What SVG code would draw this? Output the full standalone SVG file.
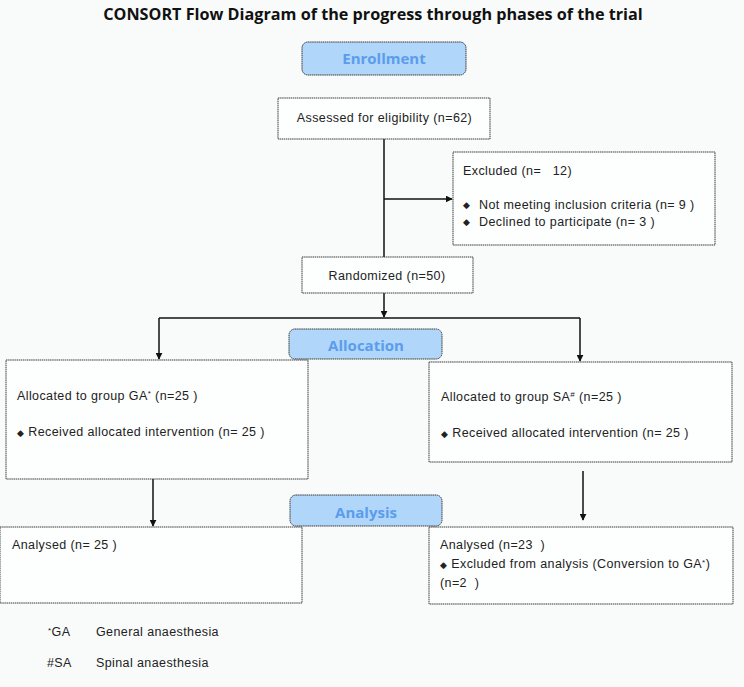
<svg xmlns="http://www.w3.org/2000/svg" width="744" height="687" viewBox="0 0 744 687">
<defs>
<style>
.box{fill:#fdfefe;stroke:#3a3a3a;stroke-width:1;stroke-dasharray:1.5 0.6}
.phase{fill:#b0d6fa;stroke:#3a3a3a;stroke-width:1;stroke-dasharray:1.5 0.6}
.pt{font-family:"Open Sans","Liberation Sans",sans-serif;font-weight:bold;font-size:15px;fill:#5b9cec;text-anchor:middle}
.t{font-family:"Liberation Sans",Arial,sans-serif;font-size:12.5px;letter-spacing:0.4px;fill:#222}
.b{font-size:8.5px}
.c{stroke:#111;stroke-width:1.5;fill:none}
</style>
<marker id="ah" viewBox="0 0 10 10" refX="9" refY="5" markerWidth="7" markerHeight="7" orient="auto" markerUnits="userSpaceOnUse"><path d="M0,0 L10,5 L0,10 z" fill="#111"/></marker>
</defs>
<rect width="744" height="687" fill="#f9fbfb"/>
<text x="373" y="20" font-family="Open Sans,Liberation Sans,sans-serif" font-weight="bold" font-size="16.2" fill="#111" text-anchor="middle">CONSORT Flow Diagram of the progress through phases of the trial</text>

<g id="connectors">
<path class="c" d="M384,139 V258"/>
<path class="c" d="M384,199 H452" marker-end="url(#ah)"/>
<path class="c" d="M384,293 V317" marker-end="url(#ah)"/>
<path class="c" d="M159,318 H580"/>
<path class="c" d="M159,318 V359" marker-end="url(#ah)"/>
<path class="c" d="M580,318 V361" marker-end="url(#ah)"/>
<path class="c" d="M153,479 V526" marker-end="url(#ah)"/>
<path class="c" d="M583,471 V520" marker-end="url(#ah)"/>
</g>

<g id="enrollment"><rect class="phase" x="302" y="42" width="164" height="33" rx="6"/><text class="pt" x="384" y="64">Enrollment</text></g>

<g id="assessed"><rect class="box" x="278" y="98" width="212" height="41"/><text class="t" x="384.5" y="122" text-anchor="middle">Assessed for eligibility (n=62)</text></g>

<g id="excluded"><rect class="box" x="453" y="152" width="262" height="93"/>
<text class="t" x="463" y="175" xml:space="preserve">Excluded (n=   12)</text>
<text class="t b" x="463" y="208">◆</text><text class="t" x="479" y="209">Not meeting inclusion criteria (n= 9 )</text>
<text class="t b" x="463" y="225">◆</text><text class="t" x="479" y="226">Declined to participate (n= 3 )</text>
</g>

<g id="randomized"><rect class="box" x="302" y="257" width="171" height="36"/><text class="t" x="387" y="280" text-anchor="middle">Randomized (n=50)</text></g>

<g id="group-ga"><rect class="box" x="6" y="360" width="302" height="119"/>
<text class="t" x="17" y="400">Allocated to group GA<tspan font-size="8" dy="-4">*</tspan><tspan dy="4"> (n=25 )</tspan></text>
<text class="t" x="17" y="436"><tspan class="b">◆</tspan> Received allocated intervention (n= 25 )</text>
</g>

<g id="group-sa"><rect class="box" x="429" y="362" width="303" height="100"/>
<text class="t" x="441" y="401">Allocated to group SA<tspan font-size="8" dy="-4">#</tspan><tspan dy="4"> (n=25 )</tspan></text>
<text class="t" x="441" y="437"><tspan class="b">◆</tspan> Received allocated intervention (n= 25 )</text>
</g>

<g id="allocation"><rect class="phase" x="289" y="329" width="153" height="30" rx="6"/><text class="pt" x="366" y="351">Allocation</text></g>

<g id="analysed-ga"><rect class="box" x="0" y="527" width="302" height="76"/>
<text class="t" x="12" y="549">Analysed (n= 25 )</text></g>

<g id="analysed-sa"><rect class="box" x="429" y="527" width="304" height="77"/>
<text class="t" x="440" y="549" xml:space="preserve">Analysed (n=23  )</text>
<text class="t" x="440" y="568"><tspan class="b">◆</tspan> Excluded from analysis (Conversion to GA<tspan font-size="8" dy="-3">*</tspan><tspan dy="3">)</tspan></text>
<text class="t" x="440" y="587" xml:space="preserve">(n=2  )</text>
</g>

<g id="analysis"><rect class="phase" x="290" y="495" width="152" height="31" rx="6"/><text class="pt" x="366" y="518">Analysis</text></g>

<g id="legend">
<text class="t" x="48" y="636"><tspan font-size="8" dy="-3">*</tspan><tspan dy="3">GA</tspan></text>
<text class="t" x="96" y="636">General anaesthesia</text>
<text class="t" x="47" y="667">#SA</text>
<text class="t" x="96" y="667">Spinal anaesthesia</text>
</g>
</svg>
